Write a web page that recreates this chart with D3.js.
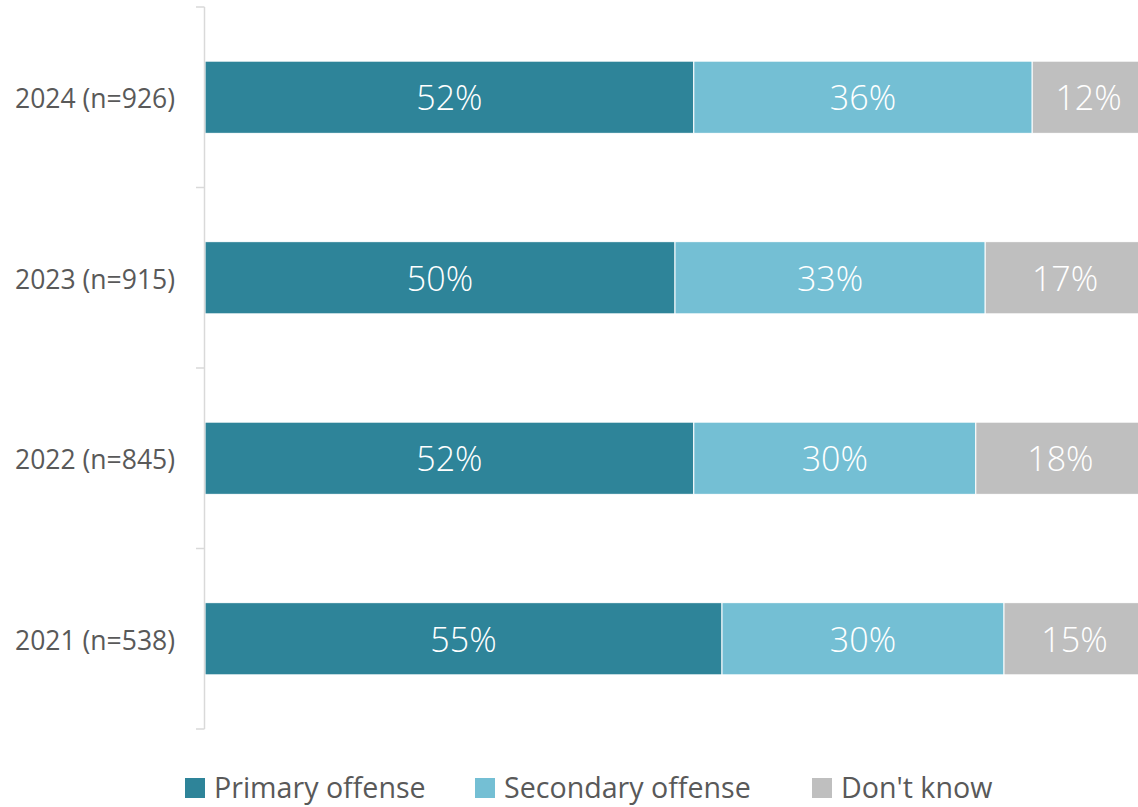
<!DOCTYPE html>
<html>
<head>
<meta charset="utf-8">
<script src="https://cdn.jsdelivr.net/npm/d3@7"></script>
<style>
  html, body { margin: 0; padding: 0; background: #fff; }
  svg text { font-family: "Open Sans", "Segoe UI", sans-serif; }
</style>
</head>
<body>
<svg id="chart" width="1138" height="807"></svg>
<script>
// Survey years (top to bottom) with sample sizes
const categories = ["2024 (n=926)", "2023 (n=915)", "2022 (n=845)", "2021 (n=538)"];
const seriesNames = ["Primary offense", "Secondary offense", "Don't know"];
const primary   = [52, 50, 52, 55];
const secondary = [36, 33, 30, 30];
const dontKnow  = [12, 17, 18, 15];
const colors = ["#2e8499", "#74bfd4", "#bfbfbf"];

const rows = categories.map((c, i) => ({
  cat: c,
  "Primary offense": primary[i],
  "Secondary offense": secondary[i],
  "Don't know": dontKnow[i]
}));

const svg = d3.select("#chart");
const x0 = 205, plotW = 940;
const yTop = 7, yBot = 729;

const x = d3.scaleLinear().domain([0, 100]).range([x0, x0 + plotW]);
const y = d3.scaleBand().domain(categories).range([yTop, yBot])
  .paddingInner(0.6).paddingOuter(0.3);

const stacked = d3.stack().keys(seriesNames)(rows);

// Stacked bar segments
const layers = svg.append("g").selectAll("g")
  .data(stacked).join("g")
  .attr("fill", (d, i) => colors[i]);

layers.selectAll("rect")
  .data(d => d)
  .join("rect")
  .attr("x", d => x(d[0]))
  .attr("y", d => y(d.data.cat))
  .attr("width", d => x(d[1]) - x(d[0]))
  .attr("height", y.bandwidth())
  .attr("stroke", "#fff")
  .attr("stroke-width", 1);

// Value labels centred in each segment
layers.selectAll("text")
  .data(d => d.map(v => ({ v, key: d.key })))
  .join("text")
  .attr("x", d => (x(d.v[0]) + x(d.v[1])) / 2)
  .attr("y", d => y(d.v.data.cat) + y.bandwidth() / 2)
  .attr("dy", "0.38em")
  .attr("text-anchor", "middle")
  .attr("fill", "#fff")
  .attr("font-size", 34)
  .attr("font-weight", 300)
  .text(d => d.v.data[d.key] + "%");

// Category axis: vertical line with ticks between bands
const axisG = svg.append("g");
axisG.append("line")
  .attr("x1", x0 - 0.5).attr("x2", x0 - 0.5)
  .attr("y1", yTop).attr("y2", yBot)
  .attr("stroke", "#d9d9d9").attr("stroke-width", 1.5);
const tickYs = d3.range(categories.length + 1).map(i => yTop + i * y.step());
axisG.selectAll("line.tick").data(tickYs).join("line")
  .attr("class", "tick")
  .attr("x1", x0 - 9).attr("x2", x0 - 0.5)
  .attr("y1", d => d).attr("y2", d => d)
  .attr("stroke", "#d9d9d9").attr("stroke-width", 1.5);
axisG.selectAll("text").data(categories).join("text")
  .attr("x", 175)
  .attr("y", d => y(d) + y.bandwidth() / 2)
  .attr("dy", "0.42em")
  .attr("text-anchor", "end")
  .attr("fill", "#595959")
  .attr("font-size", 26.5)
  .text(d => d);

// Legend
const legendX = [185, 475, 812];
const legend = svg.append("g").selectAll("g")
  .data(seriesNames).join("g")
  .attr("transform", (d, i) => `translate(${legendX[i]},778)`);
legend.append("rect")
  .attr("width", 20).attr("height", 20)
  .attr("fill", (d, i) => colors[i]);
legend.append("text")
  .attr("x", 29).attr("y", 10)
  .attr("dy", "0.36em")
  .attr("fill", "#595959")
  .attr("font-size", 28.6)
  .text(d => d);
</script>
</body>
</html>
